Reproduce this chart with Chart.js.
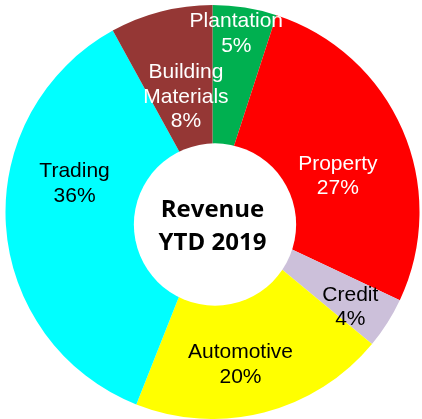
<!DOCTYPE html>
<html>
<head>
<meta charset="utf-8">
<script src="https://cdn.jsdelivr.net/npm/chart.js@4/dist/chart.umd.min.js"></script>
<style>
html,body{margin:0;padding:0;background:#fff;}
#c{display:block;}
</style>
</head>
<body>
<canvas id="c" width="422" height="419"></canvas>
<script>
const categories = ["Plantation", "Property", "Credit", "Automotive", "Trading", "Building Materials"];
const labelLines = [["Plantation"], ["Property"], ["Credit"], ["Automotive"], ["Trading"], ["Building", "Materials"]];
const revenueShare = [5, 27, 4, 20, 36, 8];
const sliceColors = ["#00B050", "#FF0000", "#CCC0DA", "#FFFF00", "#00FFFF", "#953735"];
const labelColors = ["#FFFFFF", "#FFFFFF", "#000000", "#000000", "#000000", "#FFFFFF"];
const centerTitle = ["Revenue", "YTD 2019"];

// label placement: fraction of outer radius, angular shift (degrees)
const labelRadiusFrac = [0.87, 0.63, 0.81, 0.75, 0.68, 0.57];
const labelAngleShift = [-1.4, 7.4, 2.3, 4.0, 15.1, 1.4];

const overlayPlugin = {
  id: 'overlay',
  afterDatasetsDraw(chart) {
    const ctx = chart.ctx;
    const meta = chart.getDatasetMeta(0);
    const a0 = meta.data[0];
    const cx = a0.x, cy = a0.y, R = a0.outerRadius;
    // white hole (offset like the original)
    ctx.save();
    ctx.beginPath();
    ctx.arc(cx + 2.5, cy + 12.5, R * 0.392, 0, Math.PI * 2);
    ctx.fillStyle = '#FFFFFF';
    ctx.fill();
    // center title
    ctx.fillStyle = '#000000';
    ctx.font = 'bold 24px "Open Sans", sans-serif';
    ctx.textAlign = 'center';
    ctx.textBaseline = 'middle';
    ctx.fillText(centerTitle[0], cx, cy - 2);
    ctx.fillText(centerTitle[1], cx, cy + 31);
    // slice labels
    ctx.font = '21px "Liberation Sans", Arial, sans-serif';
    meta.data.forEach((arc, i) => {
      const mid = (arc.startAngle + arc.endAngle) / 2 + labelAngleShift[i] * Math.PI / 180;
      const r = arc.outerRadius * labelRadiusFrac[i];
      const x = arc.x + Math.cos(mid) * r;
      const y = arc.y + Math.sin(mid) * r;
      const lines = labelLines[i].concat([revenueShare[i] + '%']);
      const lh = 24.5;
      const top = y - (lines.length - 1) * lh / 2;
      ctx.fillStyle = labelColors[i];
      lines.forEach((t, k) => ctx.fillText(t, x, top + k * lh));
    });
    ctx.restore();
  }
};

new Chart(document.getElementById('c'), {
  type: 'pie',
  data: {
    labels: categories,
    datasets: [{
      data: revenueShare,
      backgroundColor: sliceColors,
      borderWidth: 0
    }]
  },
  options: {
    responsive: false,
    animation: false,
    events: [],
    layout: { padding: { top: 5, left: 3, right: 0, bottom: 0 } },
    plugins: {
      legend: { display: false },
      tooltip: { enabled: false }
    }
  },
  plugins: [overlayPlugin]
});
</script>
</body>
</html>
